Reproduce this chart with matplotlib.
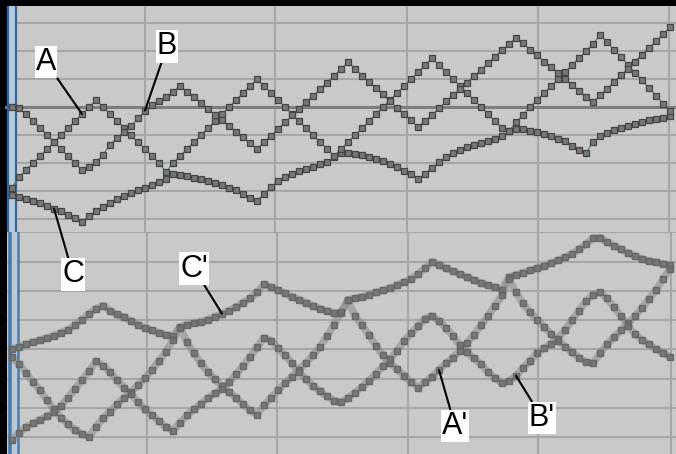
import matplotlib.pyplot as plt
import numpy as np

# one value per sample (marker); y unit = 1/4 grid division
# upper trace set
a_top = [-11.5,
         -10, -9, -8, -7, -6, -5, -4, -3, -2, -1, 0, 1,
         0, -1, -2, -3, -4, -5, -6, -7, -8, -9.3,
         -8, -7, -6, -5, -4, -3, -2, -1, 0, 1, 2, 3, 4,
         3, 2, 1, 0, -1, -2, -3, -4, -5, -6, -7,
         -6, -5, -4, -3, -2, -1, 0, 1, 2, 3, 4, 5, 6, 7,
         6, 5, 4, 3, 2, 1, 0, -1, -2, -3, -3.4,
         -2.2, -1.1, 0, 1, 2, 3, 4, 5, 6, 7, 8, 9, 10.3,
         9.3, 8.2, 7.1, 6, 4.9, 3.8, 2.7, 1.6, 0.5, -0.5]
b_top = [0, -0.2, -1, -2, -3, -4, -5, -6, -7, -8, -9,
         -8.6, -7.9, -6.8, -5.4, -4.4, -3.6, -2.7, -1.6, -0.5, 0.3, 0.8, 1.4, 2.2, 3.0,
         2.2, 1.4, 0.6, -0.3, -1.1, -1.9, -2.7, -3.5, -4.3, -5.2, -6,
         -5, -4.1, -3.1, -2.2, -1.2, -0.3, 0.7, 1.6, 2.6, 3.5, 4.5, 5.4, 6.4,
         5.5, 4.5, 3.6, 2.7, 1.8, 0.8, -0.1, -1, -1.9, -2.9,
         -2, -1.1, -0.2, 0.8, 1.7, 2.6, 3.5, 4.4, 5.3, 6.3, 7.2, 8.1, 9, 9.9,
         9.1, 8.2, 7.4, 6.5, 5.7, 4.9, 4, 3.2, 2.3, 1.5, 0.7,
         1.7, 2.6, 3.6, 4.6, 5.5, 6.5, 7.5, 8.5, 9.4, 10.4, 11.4]
c_top = [-12.6, -12.8, -13.1, -13.4, -13.7, -14.1, -14.5, -14.9, -15.4, -15.9, -16.4,
         -15.6, -14.9, -14.3, -13.7, -13.2, -12.7, -12.3, -11.9, -11.5, -11.1, -10.7, -10.3, -9.6,
         -9.7, -9.9, -10.1, -10.3, -10.6, -10.9, -11.2, -11.5, -11.9, -12.4, -13.0, -13.4,
         -12.4, -11.4, -10.6, -10.0, -9.5, -9.1, -8.8, -8.5, -8.2, -7.9, -7.2,
         -6.5, -6.5, -6.7, -6.9, -7.1, -7.4, -7.7, -8.1, -8.6, -9.1, -9.6, -10.3,
         -9.5, -8.7, -7.9, -7.2, -6.6, -6.1, -5.7, -5.4, -5.1, -4.9, -4.6, -4.2, -3.4,
         -3.1, -3.2, -3.4, -3.6, -3.9, -4.2, -4.5, -4.9, -5.5, -6.2, -6.6,
         -5.0, -4.2, -3.7, -3.3, -3.0, -2.7, -2.4, -2.1, -1.9, -1.7, -1.5, -1.3]

# lower trace set (primed)
a_bot = [-1.0, -2.0, -3.2, -4.4, -5.6, -6.9, -8.2, -9.3, -10.2, -11.0, -11.6, -11.9,
         -10.6, -9.4, -8.5, -7.5, -6.6, -5.8, -4.9, -3.9, -2.8, -1.6, -0.3, 1.3, 3.0,
         1.0, -0.5, -1.9, -3.1, -4.1, -5.0, -5.8, -6.6, -7.5, -8.3, -8.9,
         -7.6, -6.6, -5.6, -4.6, -3.7, -2.8, -1.8, -0.8, 0.4, 1.8, 3.4, 5.1, 6.7,
         4.6, 3.3, 2.0, 0.5, -0.8, -1.9, -2.7, -3.6, -4.4, -5.2,
         -4.5, -3.7, -2.8, -1.9, -1.1, -0.2, 0.9, 2.0, 3.3, 4.6, 6.0, 7.4, 9.6,
         7.8, 6.3, 5.1, 4.1, 3.1, 2.1, 1.2, 0.4, -0.4, -1.1, -1.7, -1.9,
         -0.5, 0.7, 1.7, 2.6, 3.6, 4.6, 5.7, 6.9, 8.2, 9.6, 11.0]
b_bot = [-12.4, -11.4, -10.6, -10.1, -9.6, -9.1, -8.6, -7.7, -6.6, -5.4, -4.2, -3.0, -1.6, -2.2,
         -3.1, -4.2, -5.2, -6.1, -7.2, -8.2, -9.0, -9.8, -10.6, -11.1,
         -10.0, -9.0, -8.2, -7.4, -6.6, -6.0, -5.4, -4.5, -3.4, -2.2, -1.0, 0.3, 1.6,
         1.2, 0.2, -0.8, -1.9, -3.1, -4.1, -5.0, -5.7, -6.4, -7.0, -7.2,
         -6.6, -5.9, -5.1, -4.3, -3.3, -2.3, -1.3, -0.2, 1.1, 2.2, 3.2, 4.2, 4.6,
         3.9, 2.9, 1.9, 0.6, -0.4, -1.2, -2.0, -3.1, -3.9, -4.6,
         -4.3, -3.6, -2.5, -1.6, -0.5, 0.2, 0.8, 1.5, 2.7, 4.0, 5.3, 6.6, 7.5, 7.8,
         7.0, 5.8, 4.6, 3.2, 2.1, 1.3, 0.7, 0.0, -0.5, -1.0]
c_bot = [0.0, 0.4, 0.7, 1.0, 1.3, 1.6, 1.9, 2.3, 2.7, 3.3, 4.1, 4.9, 5.6, 6.0,
         5.3, 4.8, 4.4, 3.9, 3.4, 3.0, 2.6, 2.3, 2.0, 1.8,
         3.1,
         3.4, 3.6, 3.8, 4.1, 4.5, 4.9, 5.3, 5.8, 6.4, 7.0, 7.8, 8.9,
         8.5, 8.1, 7.7, 7.2, 6.8, 6.4, 6.0, 5.6, 5.3, 5.0, 5.0,
         6.8,
         7.0, 7.2, 7.5, 7.8, 8.1, 8.4, 8.8, 9.2, 9.7, 10.3, 11.1, 12.0,
         11.6, 11.1, 10.7, 10.3, 9.9, 9.5, 9.1, 8.8, 8.5, 8.2,
         9.9,
         10.2, 10.5, 10.8, 11.1, 11.4, 11.8, 12.2, 12.6, 13.1, 13.7, 14.4, 15.2, 15.3,
         14.7, 14.2, 13.7, 13.2, 12.8, 12.4, 12.1, 11.9, 11.7, 11.5]

# vertical grid positions (in samples) and horizontal grid levels
vgrid_top = [19.0, 37.6, 56.4, 75.1, 93.9]
vgrid_bot = [19.3, 37.9, 56.6, 75.1, 94.1]
hgrid = [-16, -12, -8, -4, 0, 4, 8, 12, 16]

W, H = 676, 454
LEFT = 5
fig = plt.figure(figsize=(W / 100, H / 100), dpi=100, facecolor='black')
ax_bot = fig.add_axes([LEFT / W, 0, (W - LEFT) / W, 232 / H])
ax_top = fig.add_axes([LEFT / W, 1 - 232 / H, (W - LEFT) / W, 226 / H])
ax_top.set_zorder(3)
ax_bot.set_zorder(1)

BG = '#c9c9c9'
GRID = '#a6a6a6'


def setup(ax, ylim, vgrid):
    ax.set_facecolor(BG)
    ax.set_xlim((LEFT - 12) / 7, 664 / 7)
    ax.set_ylim(*ylim)
    for s in ax.spines.values():
        s.set_visible(False)
    ax.set_xticks([])
    ax.set_yticks([])
    for g in hgrid:
        ax.axhline(g, color=GRID, lw=1.5, zorder=1)
    for g in vgrid:
        ax.axvline(g, color=GRID, lw=1.5, zorder=1)


setup(ax_top, (-125 / 7, 101 / 7), vgrid_top)
setup(ax_bot, (-100 / 7, 122 / 7), vgrid_bot)

# black strip left of the screen area
for ax in (ax_top, ax_bot):
    ax.axvspan((LEFT - 12) / 7, (7 - 12) / 7, color='black', lw=0, zorder=1.2)

# reference level in upper panel
ax_top.axhline(0, color='#7e7e7e', lw=2.2, zorder=2)

# blue cursor bars at the left edge
ax_top.axvspan(-0.45, 0.45, color='#b7c9da', lw=0, zorder=1.5)
for xv in (-0.6, 0.57):
    ax_top.axvline(xv, color='#2a69a6', lw=1.6, zorder=2.5)
ax_bot.axvspan(-0.1, 0.72, color='#b9c8d6', lw=0, zorder=1.5)
ax_bot.axvline(-0.3, color='#3a74aa', lw=2.6, alpha=0.9, zorder=2.5)
ax_bot.axvline(0.86, color='#3a74aa', lw=1.8, alpha=0.9, zorder=2.5)


def sharp_trace(ax, y):
    x = np.arange(len(y))
    ax.plot(x, y, color='#3d8a3d', lw=0.8, zorder=3)
    ax.plot(x, y, ls='none', marker='s', ms=4.9, mfc='#777777',
            mec='#454545', mew=0.9, zorder=4)


def soft_trace(ax, y):
    x = np.arange(len(y))
    ax.plot(x, y, color='#8a8a8a', lw=5.4, alpha=0.55, zorder=3,
            solid_capstyle='round', solid_joinstyle='round')
    ax.plot(x, y, ls='none', marker='s', ms=4.7, mfc='#727272',
            mec='#646464', mew=1.0, alpha=0.9, zorder=4)


for y in (c_top, a_top, b_top):
    sharp_trace(ax_top, y)
for y in (c_bot, a_bot, b_bot):
    soft_trace(ax_bot, y)


def tag(ax, text, series, idx, dx, dy):
    ax.annotate(text, xy=(idx, series[idx]), xytext=(dx, dy),
                textcoords='offset pixels', ha='center', va='center',
                fontsize=22, family='Liberation Sans', color='black',
                bbox=dict(boxstyle='square,pad=0.04', fc='white', ec='none'),
                arrowprops=dict(arrowstyle='-', color='black', lw=1.5,
                                shrinkA=0, shrinkB=0),
                zorder=6, annotation_clip=False)


tag(ax_top, 'A', a_top, 10, -36, 52)
tag(ax_top, 'B', b_top, 19, 22, 64)
tag(ax_top, 'C', c_top, 6, 19, -66)
tag(ax_bot, "C'", c_bot, 30, -28, 45)
tag(ax_bot, "A'", a_bot, 61, 16, -56)
tag(ax_bot, "B'", b_bot, 72, 26, -42)

fig.savefig('out.png', dpi=100, facecolor='black')
